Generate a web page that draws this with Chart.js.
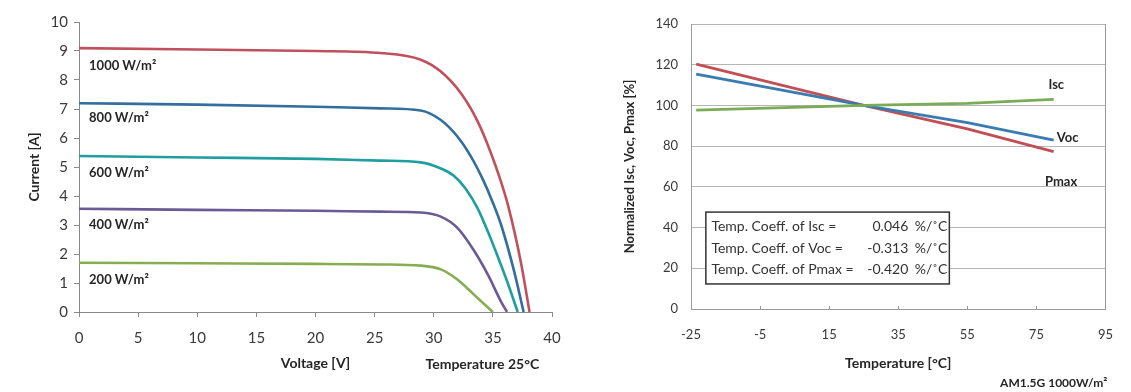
<!DOCTYPE html>
<html>
<head>
<meta charset="utf-8">
<script src="https://cdn.jsdelivr.net/npm/chart.js@4.4.0/dist/chart.umd.min.js"></script>
<style>
  body { margin: 0; background: #fff; width: 1131px; height: 392px; overflow: hidden; position: relative; }
  #ivChart { position: absolute; left: 0; top: 0; }
  #tempChart { position: absolute; left: 580px; top: 0; }
</style>
</head>
<body>
<canvas id="ivChart" width="580" height="392"></canvas>
<canvas id="tempChart" width="551" height="392"></canvas>
<script>
// ---- I-V curves (voltage V / current A) ----
const v1000 = [0, 10, 20, 25.5, 28.9, 30.6, 32.3, 33.7, 34.8, 35.6, 36.3, 37.4, 38.1];
const i1000 = [9.1, 9.05, 9.0, 8.93, 8.7, 8.29, 7.54, 6.58, 5.52, 4.6, 3.65, 1.65, 0];
const v800 = [0, 10, 20, 25.5, 28.9, 30.6, 32.0, 33.1, 34.2, 35.0, 35.7, 36.8, 37.6];
const i800 = [7.2, 7.15, 7.08, 7.02, 6.95, 6.62, 6.05, 5.39, 4.53, 3.77, 3.0, 1.4, 0];
const v600 = [0, 10, 20, 25.5, 28.9, 30.6, 31.7, 32.7, 33.7, 34.6, 35.5, 36.3, 37.1];
const i600 = [5.38, 5.33, 5.28, 5.22, 5.16, 4.95, 4.7, 4.25, 3.58, 2.75, 1.82, 0.95, 0];
const v400 = [0, 10, 20, 25.5, 28.9, 30.6, 32.0, 33.4, 34.6, 35.7, 36.2];
const i400 = [3.56, 3.52, 3.49, 3.46, 3.43, 3.29, 2.9, 2.12, 1.27, 0.35, 0];
const v200 = [0, 10, 20, 25.5, 28.9, 30.6, 32.0, 33.4, 35.0];
const i200 = [1.7, 1.68, 1.66, 1.64, 1.6, 1.47, 1.12, 0.6, 0];
const irrLabels = ['1000 W/m²', '800 W/m²', '600 W/m²', '400 W/m²', '200 W/m²'];

// ---- temperature dependence (normalized %) ----
const temps = [-23.5, 25, 55, 80];
const iscPct = [97.7, 100, 101, 103];
const vocPct = [115.4, 100, 91.5, 83];
const pmaxPct = [120.3, 100, 88.5, 77.3];
const tempTicks = [-25, -5, 15, 35, 55, 75, 95];
const coeffNames = ['Temp. Coeff. of Isc =', 'Temp. Coeff. of Voc =', 'Temp. Coeff. of Pmax ='];
const coeffValues = ['0.046', '-0.313', '-0.420'];

const FONT = 'Lato, "Open Sans", sans-serif';
const pts = (xs, ys) => xs.map((x, k) => ({ x: x, y: ys[k] }));

function curve(label, xs, ys, color) {
    return {
        label: label,
        data: pts(xs, ys),
        showLine: true,
        borderColor: color,
        backgroundColor: color,
        borderWidth: 2.6,
        pointRadius: 0,
        cubicInterpolationMode: 'monotone'
    };
}

// text inside the I-V chart
const ivLabelsPlugin = {
    id: 'ivLabels',
    afterDatasetsDraw(chart) {
        const { ctx, scales: { x, y }, chartArea } = chart;
        const labelY = [8.48, 6.69, 4.79, 3.0, 1.1];
        ctx.save();
        ctx.fillStyle = '#262626';
        ctx.font = 'bold 13px ' + FONT;
        ctx.textBaseline = 'middle';
        ctx.textAlign = 'left';
        irrLabels.forEach((t, k) => ctx.fillText(t, x.getPixelForValue(0.85), y.getPixelForValue(labelY[k])));
        ctx.font = 'bold 14px ' + FONT;
        ctx.fillText('Temperature 25°C', x.getPixelForValue(29.3), chartArea.bottom + 52);
        ctx.restore();
    }
};

new Chart(document.getElementById('ivChart'), {
    type: 'scatter',
    data: {
        datasets: [
            curve('1000', v1000, i1000, '#c0505c'),
            curve('800', v800, i800, '#336e9c'),
            curve('600', v600, i600, '#1e9e9e'),
            curve('400', v400, i400, '#6a5b96'),
            curve('200', v200, i200, '#86ad52')
        ]
    },
    options: {
        responsive: false,
        animation: false,
        devicePixelRatio: 1,
        layout: { padding: { left: 22, top: 22, right: 28, bottom: 18 } },
        plugins: { legend: { display: false }, tooltip: { enabled: false } },
        scales: {
            x: {
                min: 0, max: 40,
                afterFit: s => { s.height = 62; },
                ticks: { stepSize: 5, color: '#3a3a3a', padding: 12, font: { family: FONT, size: 15 } },
                grid: { drawOnChartArea: false, drawTicks: true, tickLength: 5, color: '#8a8a8a' },
                border: { color: '#8a8a8a' },
                title: { display: true, text: 'Voltage [V]', color: '#262626', padding: { top: 0, bottom: 2 },
                         font: { family: FONT, size: 14, weight: 'bold' } }
            },
            y: {
                min: 0, max: 10,
                afterFit: s => { s.width = 57; },
                ticks: { stepSize: 1, color: '#3a3a3a', padding: 6, font: { family: FONT, size: 15 } },
                grid: { drawOnChartArea: false, drawTicks: true, tickLength: 5, color: '#8a8a8a' },
                border: { color: '#8a8a8a' },
                title: { display: true, text: 'Current [A]', color: '#262626',
                         font: { family: FONT, size: 14, weight: 'bold' } }
            }
        }
    },
    plugins: [ivLabelsPlugin]
});

// labels, coefficient box and small inside ticks for the temperature chart
const tempLabelsPlugin = {
    id: 'tempLabels',
    afterDatasetsDraw(chart) {
        const { ctx, scales: { x, y }, chartArea } = chart;
        ctx.save();
        // inside tick marks on the x axis
        ctx.strokeStyle = '#999';
        ctx.lineWidth = 1;
        tempTicks.slice(1, -1).forEach(v => {
            const px = Math.round(x.getPixelForValue(v)) + 0.5;
            ctx.beginPath();
            ctx.moveTo(px, chartArea.bottom);
            ctx.lineTo(px, chartArea.bottom - 3);
            ctx.stroke();
        });
        // series names
        ctx.fillStyle = '#262626';
        ctx.font = 'bold 13px ' + FONT;
        ctx.textBaseline = 'middle';
        ctx.textAlign = 'left';
        ctx.fillText('Isc', x.getPixelForValue(78.5), y.getPixelForValue(110));
        ctx.fillText('Voc', x.getPixelForValue(80.9), y.getPixelForValue(84));
        ctx.fillText('Pmax', x.getPixelForValue(77.5), y.getPixelForValue(62.4));
        // coefficient box
        const bx0 = x.getPixelForValue(-20.7), bx1 = x.getPixelForValue(49.8);
        const by0 = y.getPixelForValue(47.6), by1 = y.getPixelForValue(12.3);
        ctx.fillStyle = '#fff';
        ctx.fillRect(bx0, by0, bx1 - bx0, by1 - by0);
        ctx.strokeStyle = '#333';
        ctx.lineWidth = 1.5;
        ctx.strokeRect(bx0, by0, bx1 - bx0, by1 - by0);
        ctx.fillStyle = '#333';
        ctx.font = '14px ' + FONT;
        const rowY = [40.4, 29.8, 19.2];
        coeffNames.forEach((t, k) => {
            const py = y.getPixelForValue(rowY[k]);
            ctx.textAlign = 'left';
            ctx.fillText(t, x.getPixelForValue(-19.1), py);
            ctx.textAlign = 'right';
            ctx.fillText(coeffValues[k], x.getPixelForValue(37.9), py);
            ctx.textAlign = 'left';
            ctx.fillText('%/˚C', x.getPixelForValue(39.8), py);
        });
        // footnote
        ctx.fillStyle = '#262626';
        ctx.font = 'bold 12px ' + FONT;
        ctx.fillText('AM1.5G 1000W/m²', x.getPixelForValue(64.5), chartArea.bottom + 74);
        ctx.restore();
    }
};

new Chart(document.getElementById('tempChart'), {
    type: 'scatter',
    data: {
        datasets: [
            Object.assign(curve('Isc', temps, iscPct, '#7aab57'), { cubicInterpolationMode: 'default', tension: 0, borderWidth: 2.8 }),
            Object.assign(curve('Voc', temps, vocPct, '#3a7bb0'), { cubicInterpolationMode: 'default', tension: 0, borderWidth: 2.8 }),
            Object.assign(curve('Pmax', temps, pmaxPct, '#c24f55'), { cubicInterpolationMode: 'default', tension: 0, borderWidth: 2.8 })
        ]
    },
    options: {
        responsive: false,
        animation: false,
        devicePixelRatio: 1,
        layout: { padding: { left: 38, top: 24, right: 16, bottom: 18 } },
        plugins: { legend: { display: false }, tooltip: { enabled: false } },
        scales: {
            x: {
                min: -25, max: 95,
                afterFit: s => { s.height = 65; },
                afterBuildTicks: s => { s.ticks = tempTicks.map(v => ({ value: v })); },
                ticks: { color: '#3a3a3a', padding: 18, font: { family: FONT, size: 13 } },
                grid: { drawTicks: false, color: c => (c.tick && c.tick.value === 95 ? '#9a9a9a' : 'rgba(0,0,0,0)') },
                border: { color: '#9a9a9a' },
                title: { display: true, text: 'Temperature [°C]', color: '#262626', padding: { top: 0, bottom: 2 },
                         font: { family: FONT, size: 14, weight: 'bold' } }
            },
            y: {
                min: 0, max: 140,
                afterFit: s => { s.width = 73; },
                ticks: { stepSize: 20, color: '#3a3a3a', padding: 13, font: { family: FONT, size: 13 } },
                grid: { drawTicks: false, color: '#b5b5b5' },
                border: { color: '#9a9a9a' },
                title: { display: true, text: 'Normalized Isc, Voc, Pmax [%]', color: '#262626',
                         font: { family: FONT, size: 13, weight: 'bold' } }
            }
        }
    },
    plugins: [tempLabelsPlugin]
});
</script>
</body>
</html>
